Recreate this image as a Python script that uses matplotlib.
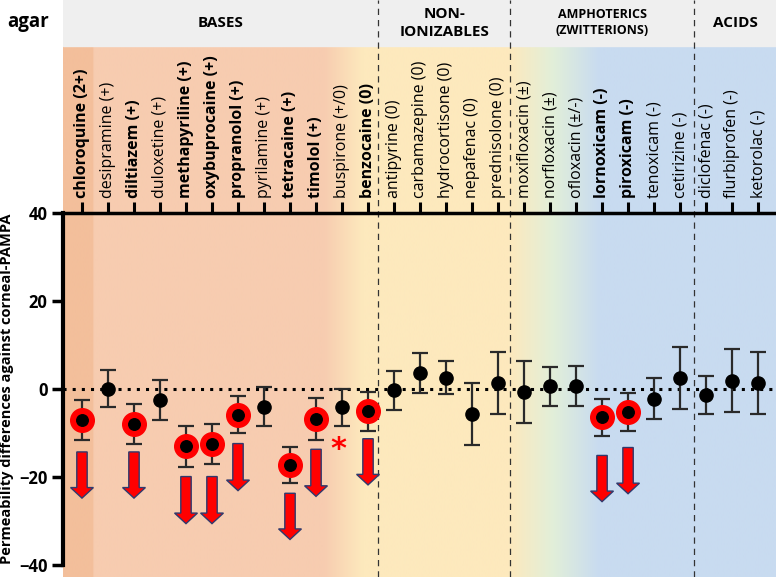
import numpy as np
import matplotlib
matplotlib.use("Agg")
import matplotlib.pyplot as plt

plt.rcParams['font.family'] = ['Open Sans', 'DejaVu Sans']

# compounds (x axis, top) and their charge labels
compounds = ['chloroquine (2+)', 'desipramine (+)', 'diltiazem (+)', 'duloxetine (+)',
             'methapyriline (+)', 'oxybuprocaine (+)', 'propranolol (+)', 'pyrilamine (+)',
             'tetracaine (+)', 'timolol (+)', 'buspirone (+/0)', 'benzocaine (0)',
             'antipyrine (0)', 'carbamazepine (0)', 'hydrocortisone (0)', 'nepafenac (0)',
             'prednisolone (0)', 'moxifloxacin (±)', 'norfloxacin (±)', 'ofloxacin (±/-)',
             'lornoxicam (-)', 'piroxicam (-)', 'tenoxicam (-)', 'cetirizine (-)',
             'diclofenac (-)', 'flurbiprofen (-)', 'ketorolac (-)']

# permeability difference (mean) and error bar half-width
means = [-7.0, 0.1, -7.9, -2.5, -13.0, -12.6, -5.8, -4.0, -17.3, -6.8, -4.2, -5.1,
         -0.3, 3.7, 2.6, -5.7, 1.3,
         -0.7, 0.6, 0.6, -6.4, -5.3, -2.2, 2.6,
         -1.4, 1.9, 1.3]
errs = [4.6, 4.25, 4.5, 4.5, 4.65, 4.55, 4.15, 4.5, 4.05, 4.8, 4.2, 4.35,
        4.5, 4.55, 3.8, 7.1, 7.05,
        7.05, 4.35, 4.55, 4.2, 4.3, 4.6, 7.05,
        4.3, 7.15, 7.05]

# significantly different compounds (red ring, bold label, arrow)
signif = [0, 2, 4, 5, 6, 8, 9, 11, 20, 21]
arrow_top = [-14.3, -14.3, -19.9, -19.9, -12.4, -23.7, -13.7, -11.3, -15.1, -13.3]
arrow_tip = [-24.8, -24.8, -30.6, -30.6, -23.1, -34.2, -24.4, -21.8, -25.6, -23.8]

star_idx = 10
star_y = -11.9

groups = ['BASES', 'NON-\nIONIZABLES', 'AMPHOTERICS\n(ZWITTERIONS)', 'ACIDS']
group_bounds = [11.4, 16.45, 23.55]

x = np.arange(len(compounds))
means = np.array(means)
errs = np.array(errs)
xmin, xmax = -0.73, 26.69

fig = plt.figure(figsize=(7.76, 5.77), dpi=100)
L = 63 / 776
head_y = 531 / 577

# background panel (colour bands + header)
bg = fig.add_axes([L, 0, 1 - L, 1], zorder=0)
bg.set_xlim(xmin, xmax)
bg.set_ylim(0, 1)
bg.axis('off')
stops = [xmin, 0.42, 0.44, 9.3, 10.8, 16.45, 18.1, 19.9, xmax]
cols = ['#f3bf9b', '#f3bf9b', '#f7ccb0', '#f7ccb0', '#fde9bd', '#fde9bd',
        '#e2efd9', '#c8dbf0', '#c8dbf0']
rgb = np.array([matplotlib.colors.to_rgb(c) for c in cols])
xs = np.linspace(xmin, xmax, 1200)
img = np.stack([np.interp(xs, stops, rgb[:, k]) for k in range(3)], axis=-1)[None, :, :]
bg.imshow(img, extent=[xmin, xmax, 0, head_y], aspect='auto', interpolation='bilinear')
bg.axhspan(head_y, 1, color='#efefef')
for b in group_bounds:
    bg.axvline(b, color='#333333', lw=0.9, ls=(0, (5, 4)))
edges = [xmin] + group_bounds + [xmax]
for i, g in enumerate(groups):
    small = i == 2
    bg.text((edges[i] + edges[i + 1]) / 2, (head_y + 1) / 2, g, ha='center', va='center',
            fontsize=9 if small else 11, fontweight='bold', linespacing=1.3)
fig.text(28 / 776, 1 - 22 / 577, 'agar', ha='center', va='center', fontsize=13.5,
         fontweight='bold')

# main plot
ax = fig.add_axes([L, 12 / 577, 1 - L, (565 - 213) / 577], zorder=1)
ax.set_facecolor('none')
ax.set_xlim(xmin, xmax)
ax.set_ylim(-40, 40)

ax.axhline(0, color='black', ls=(0, (1, 2)), lw=2.2, zorder=2)
ax.errorbar(x, means, yerr=errs, fmt='none', ecolor='#2a2a2a', elinewidth=1.6,
            capsize=5.5, capthick=1.6, zorder=3)
ax.plot(x[signif], means[signif], 'o', color='red', ms=17, mec='red', zorder=4)
normal = [i for i in x if i not in signif]
ax.plot(x[normal], means[normal], 'o', color='black', ms=9.5, zorder=5)
ax.plot(x[signif], means[signif], 'o', color='black', ms=8.3, zorder=5)

for i, t0, t1 in zip(signif, arrow_top, arrow_tip):
    ax.arrow(i, t0, 0, t1 - t0, width=0.4, head_width=0.88, head_length=2.4,
             length_includes_head=True, fc='#ff0000', ec='#2e3a6e', lw=1, zorder=4)

ax.text(star_idx - 0.15, star_y - 1.8, '*', color='red', fontsize=22, fontweight='bold',
        ha='center', va='center', family='DejaVu Sans')

ax.set_xticks(x)
ax.set_xticklabels(compounds)
ax.tick_params(axis='x', top=True, bottom=False, labeltop=True, labelbottom=False,
               direction='out', length=8, width=2.2, labelrotation=90, labelsize=11.5, pad=3)
for i, lab in enumerate(ax.get_xticklabels()):
    if i in signif:
        lab.set_fontweight('bold')
ax.set_yticks([-40, -20, 0, 20, 40])
ax.tick_params(axis='y', direction='out', length=8, width=2.5, labelsize=12, pad=3)
for lab in ax.get_yticklabels():
    lab.set_fontweight('bold')
ax.set_ylabel('Permeability differences against corneal-PAMPA', fontsize=10.5,
              fontweight='bold', labelpad=4)

ax.spines['right'].set_visible(False)
ax.spines['bottom'].set_visible(False)
ax.spines['top'].set_linewidth(2.5)
ax.spines['left'].set_linewidth(3)

fig.savefig('out.png', dpi=100)
